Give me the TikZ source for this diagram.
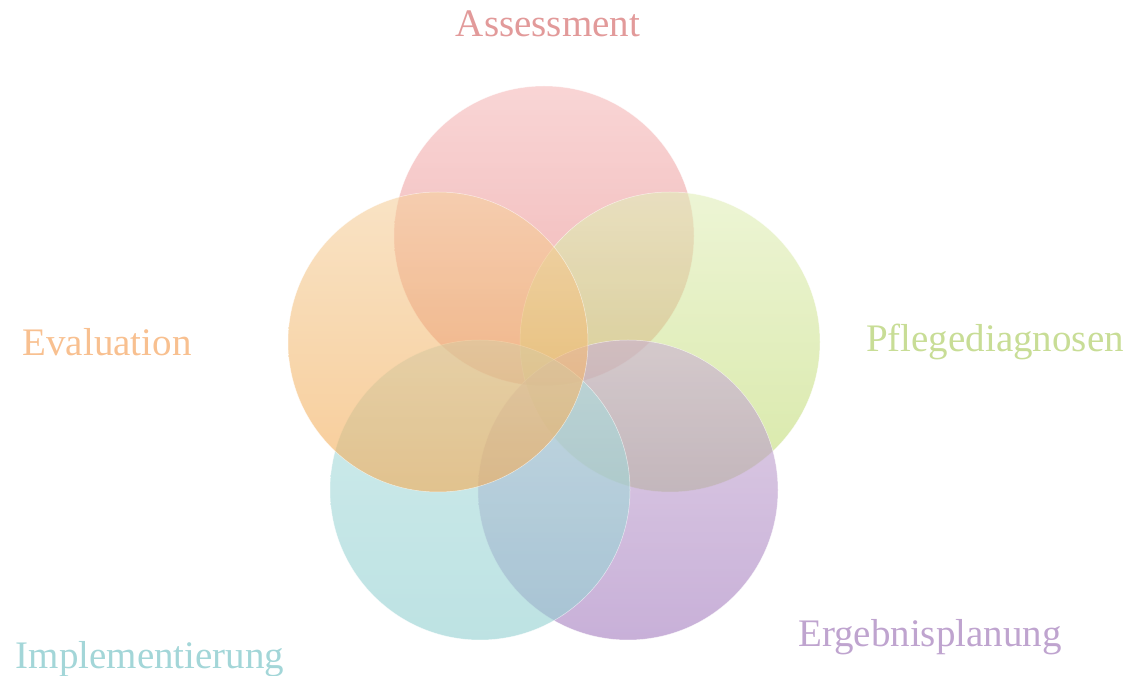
\documentclass[tikz,border=0pt]{standalone}
\usepackage{fontspec}
\setmainfont{Liberation Serif}
\usepackage{tikz}
\usetikzlibrary{positioning}
\usepackage{xcolor}
\definecolor{astop}{HTML}{F5B9B9}
\definecolor{asbot}{HTML}{E48080}
\definecolor{astext}{HTML}{E29A9A}
\definecolor{pdtop}{HTML}{E1EEB9}
\definecolor{pdbot}{HTML}{BED96E}
\definecolor{pdtext}{HTML}{C8DD96}
\definecolor{eptop}{HTML}{CBB1D5}
\definecolor{epbot}{HTML}{A37BBE}
\definecolor{eptext}{HTML}{BFA4CF}
\definecolor{imtop}{HTML}{B1DFDF}
\definecolor{imbot}{HTML}{91CFD0}
\definecolor{imtext}{HTML}{A3D6D8}
\definecolor{evtop}{HTML}{F5D09E}
\definecolor{evbot}{HTML}{F3AA53}
\definecolor{evtext}{HTML}{F8C090}

\begin{document}
\begin{tikzpicture}[x=1pt, y=1pt,
          phase/.style 2 args={circle, minimum size=300pt, inner sep=0pt, top color=#1, bottom color=#2,
            fill opacity=0.6, draw=white, draw opacity=0.6, line width=0.5pt},
          caption/.style={font=\fontsize{39}{44}\selectfont, inner sep=0pt}]
        \useasboundingbox (0,0) rectangle (1133,675);
        % the five overlapping circles
        \node[phase={astop}{asbot}] (assess) at (544,439) {};
        \node[phase={pdtop}{pdbot}] (diag) at (670,333) {};
        \node[phase={eptop}{epbot}] (plan) at (628,185) {};
        \node[phase={imtop}{imbot}] (impl) at (480,185) {};
        \node[phase={evtop}{evbot}] (eval) at (438,333) {};
        % captions
        \node[caption, text=astext] (assesstxt) at (548,651) {Assessment};
        \node[caption, text=pdtext] (diagtxt) at (995,333) {Pflegediagnosen};
        \node[caption, text=eptext] (plantxt) at (930,38) {Ergebnisplanung};
        \node[caption, text=imtext] (impltxt) at (150,16) {Implementierung};
        \node[caption, text=evtext] (evaltxt) at (107,333) {Evaluation};
      \end{tikzpicture}
\end{document}
